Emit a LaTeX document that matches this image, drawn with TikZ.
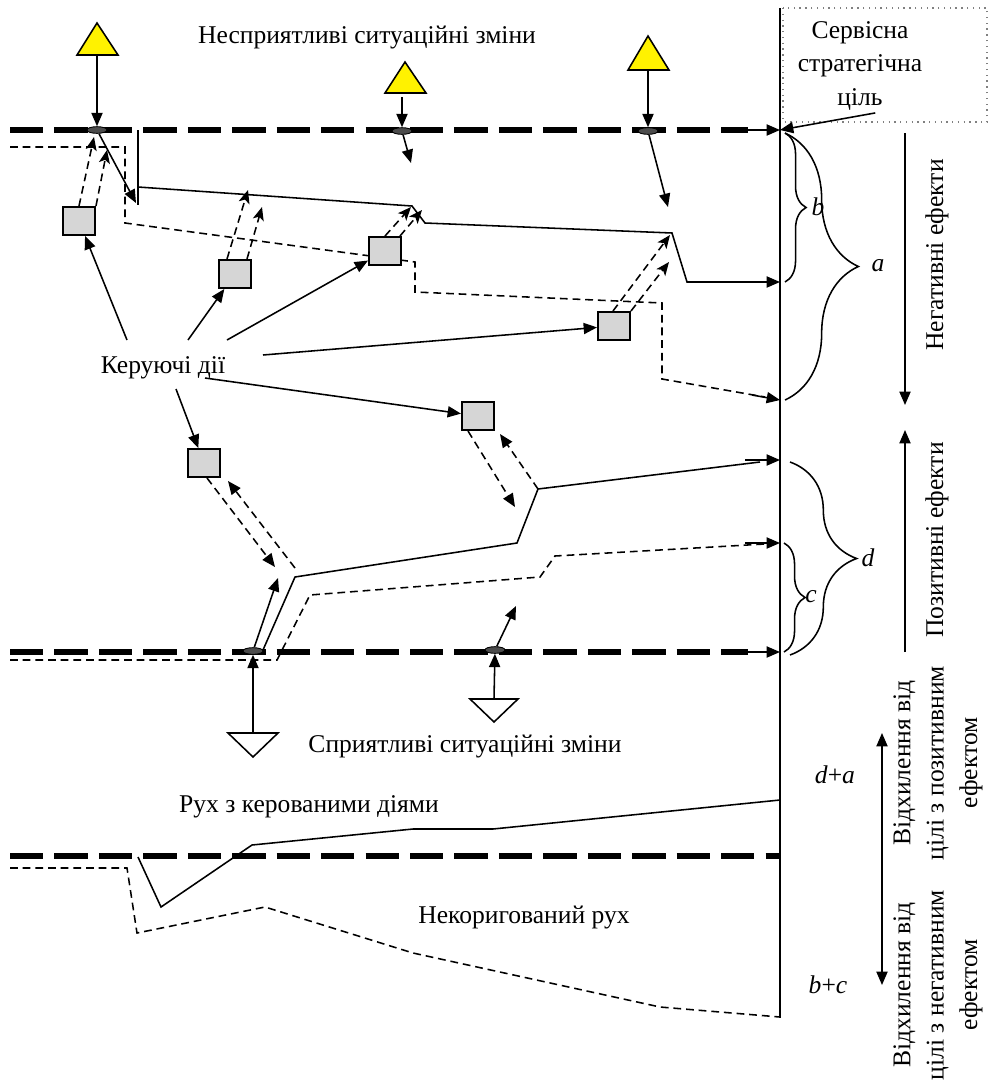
\documentclass[tikz,border=0pt]{standalone}
\usepackage{fontspec}
\setmainfont{Liberation Serif}
\usetikzlibrary{arrows.meta,calc,decorations.pathreplacing,shapes.geometric}

\tikzset{
  arr/.style={line width=.7pt,-{Triangle[length=6pt,width=5pt]}},
  darr/.style={line width=.7pt,dash pattern=on 3.5pt off 2.2pt,-{Stealth[length=6pt,width=5pt,inset=1.5pt]}},
  darrb/.style={line width=.7pt,dash pattern=on 3.5pt off 2.2pt,-{Triangle[length=6pt,width=5pt]}},
  base/.style={line width=2.4pt,dash pattern=on 15pt off 5pt},
  free/.style={line width=.7pt},
  loose/.style={line width=.7pt,dash pattern=on 3.5pt off 2.2pt},
  act/.style={draw,line width=.9pt,fill=black!16,minimum width=14.4pt,minimum height=12.6pt,inner sep=0pt},
  hit/.style={ellipse,draw,fill=black!70,line width=.4pt,minimum width=9pt,minimum height=3pt,inner sep=0pt},
  warn/.style={draw,line width=.7pt,fill=yellow},
  fav/.style={draw,line width=.7pt,fill=white},
  lbl/.style={font=\fontsize{11.5}{15}\selectfont,inner sep=1pt},
  rlbl/.style={lbl,rotate=90,align=center},
  br/.style={line width=.7pt,decorate,decoration={brace,amplitude=#1}},
}

\begin{document}
\begin{tikzpicture}[x=.45pt,y=-.45pt]
\useasboundingbox (0,0) rectangle (990,1088);

% goal axis
\draw[free] (780,8) -- (780,1018);
\draw[gray,dotted,line width=.6pt] (783,8) rectangle (987,122);
\node[lbl,align=center] (goal) at (860,66) {Сервісна\\стратегічна\\ціль};
\coordinate (g0) at (780,130);
\coordinate (g1) at (780,282);
\coordinate (g2) at (780,400);
\coordinate (g3) at (780,460);
\coordinate (g4) at (780,543);
\coordinate (g5) at (780,652);
\draw[arr] (goal.-72) -- (g0);

% unfavourable changes
\node[lbl] (bad) at (367,38) {Несприятливі ситуаційні зміни};
\draw[base] (10,130) -- (748,130);
\draw[arr] (740,130) -- (g0);
\draw[warn] (77,55) -- (97,23) -- (118,55) -- cycle;
\draw[warn] (385,93) -- (405,62) -- (426,93) -- cycle;
\draw[warn] (628,70) -- (648,36) -- (669,70) -- cycle;
\coordinate (t1) at (97,55);
\coordinate (t2) at (402,97);
\coordinate (t3) at (648,70);
\node[hit] (e1) at (97,130) {};
\node[hit] (e2) at (402,131) {};
\node[hit] (e3) at (648,131) {};
\draw[arr] (t1) -- (e1);
\draw[arr] (t2) -- (e2);
\draw[arr] (t3) -- (e3);
\coordinate (p1) at (136,203);
\coordinate (p2) at (411,163);
\coordinate (p3) at (668,207);
\draw[arr] (e1) -- (p1);
\draw[arr] (e2) -- (p2);
\draw[arr] (e3) -- (p3);

% trajectories, upper part
\draw[free] (138,130) -- (138,205);
\draw[free] (138,187) -- (412,206) -- (425,223) -- (672,233) -- (687,282) -- (760,282);
\draw[arr] (745,282) -- (g1);
\draw[loose] (10,147) -- (125,147) -- (125,223) -- (415,262) -- (415,292) -- (662,303) -- (662,379) -- (765,397);
\draw[arr] (752,395) -- (g2);

% control actions
\node[lbl] (kd) at (163,368) {Керуючі дії};
\node[act] (b1) at (79,221) {};
\node[act] (b2) at (235,274) {};
\node[act] (b3) at (385,251) {};
\node[act] (b4) at (614,326) {};
\node[act] (b5) at (478,416) {};
\node[act] (b6) at (204,463) {};
\draw[arr] ($(kd)+(-36,-28)$) -- (b1);
\draw[arr] ($(kd)+(25,-28)$) -- (b2);
\draw[arr] ($(kd)+(64,-28)$) -- (b3);
\draw[arr] ($(kd)+(100,-13)$) -- (b4);
\draw[arr] ($(kd)+(42,10)$) -- (b5);
\draw[arr] ($(kd)+(13,21)$) -- (b6);

\coordinate (q1a) at (94,137);
\coordinate (q1b) at (107,150);
\coordinate (q2a) at (248,190);
\coordinate (q2b) at (262,207);
\coordinate (q3a) at (411,207);
\coordinate (q3b) at (422,210);
\coordinate (q4a) at (670,235);
\coordinate (q4b) at (669,262);
\draw[darr] (b1.north) -- (q1a);
\draw[darr] (b1.north east) -- (q1b);
\draw[darr] ($(b2.north)+(-8,0)$) -- (q2a);
\draw[darr] ($(b2.north)+(12,0)$) -- (q2b);
\draw[darr] (b3.north) -- (q3a);
\draw[darr] ($(b3.north)+(15,0)$) -- (q3b);
\draw[darr] ($(b4.north)+(-1,0)$) -- (q4a);
\draw[darr] (b4.north east) -- (q4b);

\coordinate (k5) at (538,489);
\coordinate (k6) at (295,568);
\coordinate (q5) at (515,507);
\coordinate (q6) at (275,567);
\coordinate (r5) at (500,434);
\coordinate (r6) at (228,481);
\draw[darrb] ($(b5.south)+(-10,0)$) -- (q5);
\draw[darrb] (k5) -- (r5);
\draw[darrb] ($(b6.south)+(3,0)$) -- (q6);
\draw[darrb] (k6) -- (r6);

% favourable changes
\node[lbl] (good) at (465,747) {Сприятливі ситуаційні зміни};
\draw[base] (10,652) -- (748,652);
\draw[arr] (740,652) -- (g5);
\draw[fav] (228,733) -- (278,733) -- (253,757) -- cycle;
\draw[fav] (470,699) -- (518,699) -- (494,722) -- cycle;
\coordinate (t4) at (253,733);
\coordinate (t5) at (494,699);
\node[hit] (e4) at (253,651) {};
\node[hit] (e5) at (495,650) {};
\draw[arr] (t4) -- (e4);
\draw[arr] (t5) -- (e5);
\coordinate (p4) at (278,578);
\coordinate (p5) at (516,606);
\draw[arr] (e4) -- (p4);
\draw[arr] (e5) -- (p5);

% trajectories, lower part
\draw[free] (263,650) -- (295,577) -- (517,543) -- (538,489) -- (760,462);
\draw[arr] (745,460) -- (g3);
\draw[loose] (10,660) -- (277,660) -- (310,595) -- (540,577) -- (555,556) -- (765,544);
\draw[arr] (745,543) -- (g4);

% braces
\draw[br=33pt] (785,133) -- (785,400);
\draw[br=9.5pt] (785,133) -- (785,282);
\draw[br=30pt] (790,462) -- (790,655);
\draw[br=9.5pt] (784,543) -- (784,652);
\node[lbl] (la) at (878,266) {\textit{a}};
\node[lbl] (lb) at (818,207) {\textit{b}};
\node[lbl] (ld) at (868,558) {\textit{d}};
\node[lbl] (lc) at (811,597) {\textit{c}};

% effects
\draw[arr] (905,133) -- (905,405);
\node[lbl,rotate=90] (neg) at (937,255) {Негативні ефекти};
\draw[arr] (905,652) -- (905,430);
\node[lbl,rotate=90] (pos) at (937,540) {Позитивні ефекти};

% bottom chart
\node[lbl] (mov) at (309,807) {Рух з керованими діями};
\node[lbl] (unc) at (524,917) {Некоригований рух};
\draw[base] (10,856) -- (780,856);
\draw[free] (138,857) -- (161,907) -- (252,845) -- (413,829) -- (493,829) -- (780,800);
\draw[loose] (10,868) -- (127,868) -- (137,933) -- (265,907) -- (413,953) -- (660,1007) -- (780,1017);
\draw[line width=.7pt,{Triangle[length=6pt,width=5pt]}-{Triangle[length=6pt,width=5pt]}] (882,733) -- (882,985);
\node[lbl] (da) at (835,775) {\textit{d}+\textit{a}};
\node[lbl] (bc) at (828,985) {\textit{b}+\textit{c}};
\node[rlbl] (devp) at (938,763) {Відхилення від\\цілі з позитивним\\ефектом};
\node[rlbl] (devn) at (938,985) {Відхилення від\\цілі з негативним\\ефектом};

\end{tikzpicture}
\end{document}
